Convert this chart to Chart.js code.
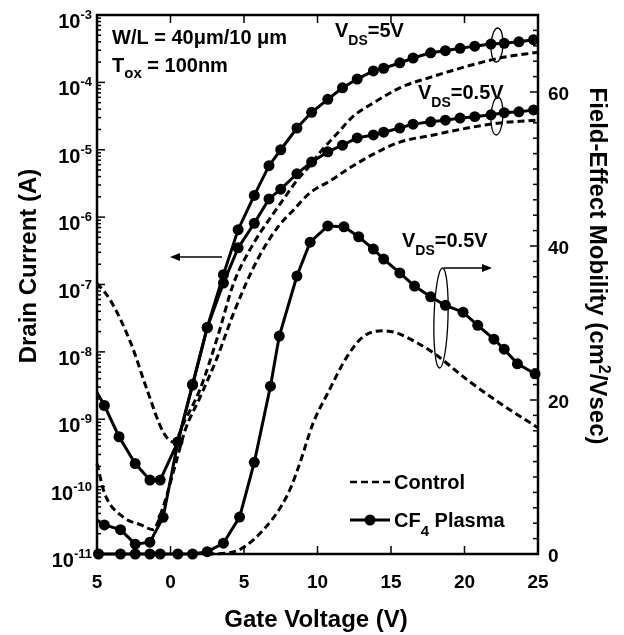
<!DOCTYPE html>
<html>
<head>
<meta charset="utf-8">
<script src="https://cdn.jsdelivr.net/npm/chart.js@4.4.1/dist/chart.umd.min.js"></script>
<style>
  html, body { margin: 0; padding: 0; background: #fff; }
</style>
</head>
<body>
<canvas id="chart" width="624" height="635"></canvas>
<script>
// ---- data ----
// drain current, CF4 plasma, VDS = 5V
const cf4HiV = [-5, -4.5, -3.5, -2.4, -1.4, -0.7, 0.5, 1.5, 2.5, 3.6, 4.6, 5.7, 6.7, 7.5, 8.6, 9.6, 10.7, 11.7, 12.7, 13.8, 14.5, 15.6, 16.5, 17.7, 18.7, 19.7, 20.7, 21.8, 22.7, 23.7, 24.7];
const cf4HiId = [2.5e-9, 1.6e-9, 5.5e-10, 2.2e-10, 1.25e-10, 1.25e-10, 4.6e-10, 3.3e-9, 2.3e-8, 1.4e-7, 6.5e-7, 2.1e-6, 5.8e-6, 1.0e-5, 2.1e-5, 3.6e-5, 5.6e-5, 8.3e-5, 1.12e-4, 1.48e-4, 1.62e-4, 1.95e-4, 2.3e-4, 2.75e-4, 2.95e-4, 3.2e-4, 3.45e-4, 3.7e-4, 3.8e-4, 4.0e-4, 4.3e-4];

// drain current, CF4 plasma, VDS = 0.5V
const cf4LoV = [-5, -4.5, -3.4, -2.4, -1.4, -0.5, 0.5, 1.5, 2.5, 3.6, 4.6, 5.7, 6.7, 7.5, 8.6, 9.6, 10.7, 11.7, 12.7, 13.8, 14.5, 15.6, 16.5, 17.7, 18.7, 19.7, 20.7, 21.8, 22.7, 23.7, 24.7];
const cf4LoId = [3.2e-11, 2.7e-11, 2.3e-11, 1.4e-11, 1.5e-11, 3.5e-11, 4.6e-10, 3.2e-9, 2.3e-8, 1.05e-7, 3.5e-7, 8.1e-7, 1.86e-6, 2.6e-6, 4.4e-6, 6.6e-6, 9.3e-6, 1.17e-5, 1.5e-5, 1.66e-5, 1.82e-5, 2.1e-5, 2.4e-5, 2.6e-5, 2.75e-5, 2.95e-5, 3.1e-5, 3.3e-5, 3.55e-5, 3.65e-5, 3.9e-5];

// drain current, control, VDS = 5V
const ctlHiV = [-5, -4.1, -2.7, -1.6, -0.5, 0.2, 1.0, 2.0, 3.2, 4.3, 5.6, 6.8, 7.7, 8.6, 9.5, 10.2, 11.4, 12.4, 13.9, 15.6, 17.9, 20.2, 22.4, 25];
const ctlHiId = [1.05e-7, 5.9e-8, 1.35e-8, 2.75e-9, 6.5e-10, 4.6e-10, 9.8e-10, 2.75e-9, 1.66e-8, 1.05e-7, 3.9e-7, 9.8e-7, 1.86e-6, 3.5e-6, 5.9e-6, 9.3e-6, 1.8e-5, 3.1e-5, 5.1e-5, 8.3e-5, 1.23e-4, 1.74e-4, 2.3e-4, 2.8e-4];

// drain current, control, VDS = 0.5V
const ctlLoV = [-5, -4.5, -3.2, -2.0, -1.2, -0.5, 0.3, 1.0, 2.0, 3.2, 4.3, 5.9, 7.3, 8.4, 9.5, 10.9, 12.2, 14.1, 15.6, 17.9, 20.2, 22.4, 25];
const ctlLoId = [2.2e-10, 8.1e-11, 3.5e-11, 2.7e-11, 2.3e-11, 5e-11, 2e-10, 6.9e-10, 2.1e-9, 8.5e-9, 3.8e-8, 2.3e-7, 7.1e-7, 1.3e-6, 2.3e-6, 3.5e-6, 5.4e-6, 9.3e-6, 1.3e-5, 1.66e-5, 2.1e-5, 2.5e-5, 2.75e-5];

// field-effect mobility (VDS = 0.5V)
const cf4MuV = [-4.9, -3.4, -2.4, -1.4, -0.7, 0.5, 1.5, 2.5, 3.6, 4.7, 5.7, 6.8, 7.4, 8.6, 9.5, 10.7, 11.8, 12.8, 13.8, 14.5, 15.6, 16.6, 17.7, 18.7, 19.9, 20.9, 22.0, 22.7, 23.6, 24.8];
const cf4Mu = [0, 0, 0, 0, 0, 0, 0, 0.3, 1.4, 4.8, 11.9, 21.8, 28.3, 36.1, 40.5, 42.6, 42.5, 41.2, 39.6, 38.3, 36.5, 34.8, 33.4, 32.3, 31.4, 29.7, 27.9, 26.6, 24.7, 23.4];
const ctlMuV = [2.5, 4.1, 5.0, 6.3, 7.5, 8.2, 8.8, 9.7, 10.7, 12.0, 13.1, 14.4, 15.4, 16.8, 17.9, 20.2, 22.4, 25];
const ctlMu = [0, 0.2, 0.9, 3.1, 6.1, 8.7, 11.8, 17.0, 20.9, 25.6, 28.2, 29.0, 28.7, 27.4, 26.1, 22.6, 19.6, 16.4];

// tick labels
const xTicks = [-5, 0, 5, 10, 15, 20, 25];
const xTickLabels = ['5', '0', '5', '10', '15', '20', '25'];
const yExps = [-3, -4, -5, -6, -7, -8, -9, -10, -11];
const y2Ticks = [0, 20, 40, 60];

const FONT = '"Liberation Sans", Arial, Helvetica, sans-serif';

function pts(xs, ys) {
  return xs.map((x, i) => ({ x: x, y: ys[i] }));
}

// draw a row of text pieces [text, size, dy] with optional rotation
function runs(ctx, parts, x, y, align, rot) {
  ctx.save();
  ctx.translate(x, y);
  if (rot) ctx.rotate(rot);
  let w = 0;
  const ws = parts.map(p => {
    ctx.font = 'bold ' + p[1] + 'px ' + FONT;
    const m = ctx.measureText(p[0]).width;
    w += m;
    return m;
  });
  let cx = align === 'center' ? -w / 2 : align === 'right' ? -w : 0;
  ctx.fillStyle = '#000';
  ctx.textAlign = 'left';
  ctx.textBaseline = 'alphabetic';
  parts.forEach((p, i) => {
    ctx.font = 'bold ' + p[1] + 'px ' + FONT;
    ctx.fillText(p[0], cx, p[2] || 0);
    cx += ws[i];
  });
  ctx.restore();
}

function arrow(ctx, x1, y, x2) {
  const dir = x2 > x1 ? 1 : -1;
  ctx.beginPath();
  ctx.moveTo(x1, y);
  ctx.lineTo(x2 - dir * 6, y);
  ctx.stroke();
  ctx.beginPath();
  ctx.moveTo(x2, y);
  ctx.lineTo(x2 - dir * 10, y - 4);
  ctx.lineTo(x2 - dir * 10, y + 4);
  ctx.closePath();
  ctx.fill();
}

const framePlugin = {
  id: 'frame',
  afterDraw(chart) {
    const ctx = chart.ctx;
    const a = chart.chartArea;
    const sx = chart.scales.x, sy = chart.scales.y, sy2 = chart.scales.y2;
    ctx.save();
    ctx.strokeStyle = '#000';
    ctx.fillStyle = '#000';
    ctx.lineWidth = 2.5;
    ctx.strokeRect(a.left, a.top, a.right - a.left, a.bottom - a.top);

    // x ticks, top and bottom, pointing inward
    ctx.lineWidth = 1.5;
    xTicks.forEach(v => {
      const px = sx.getPixelForValue(v);
      ctx.beginPath();
      ctx.moveTo(px, a.bottom); ctx.lineTo(px, a.bottom - 8);
      ctx.moveTo(px, a.top); ctx.lineTo(px, a.top + 8);
      ctx.stroke();
    });
    // log ticks on the left
    for (let e = -11; e <= -3; e++) {
      const py = sy.getPixelForValue(Math.pow(10, e));
      ctx.beginPath(); ctx.moveTo(a.left, py); ctx.lineTo(a.left + 8, py); ctx.stroke();
      if (e < -3) {
        for (let k = 2; k <= 9; k++) {
          const pm = sy.getPixelForValue(k * Math.pow(10, e));
          ctx.beginPath(); ctx.moveTo(a.left, pm); ctx.lineTo(a.left + 4, pm); ctx.stroke();
        }
      }
    }
    // mobility ticks on the right
    for (let v = 0; v <= 70; v += 2) {
      const py = sy2.getPixelForValue(v);
      const len = v % 20 === 0 ? 8 : 5;
      ctx.beginPath(); ctx.moveTo(a.right, py); ctx.lineTo(a.right - len, py); ctx.stroke();
    }

    // tick labels
    xTicks.forEach((v, i) => {
      runs(ctx, [[xTickLabels[i], 19]], sx.getPixelForValue(v), 588, 'center');
    });
    yExps.forEach(e => {
      const py = sy.getPixelForValue(Math.pow(10, e));
      runs(ctx, [['10', 20], [String(e), 13, -9]], 92, py + 13, 'right');
    });
    y2Ticks.forEach(v => {
      const py = sy2.getPixelForValue(v);
      runs(ctx, [[String(v), 19]], 548, py + 8, 'left');
    });

    // axis titles
    runs(ctx, [['Gate Voltage (V)', 24]], 316, 627, 'center');
    runs(ctx, [['Drain Current (A)', 24]], 36, 266, 'center', -Math.PI / 2);
    runs(ctx, [['Field-Effect Mobility (cm', 24], ['2', 16, -9], ['/Vsec)', 24]], 590, 266, 'center', Math.PI / 2);

    // annotations
    runs(ctx, [['W/L = 40\u03bcm/10 \u03bcm', 20]], 112, 44, 'left');
    runs(ctx, [['T', 20], ['ox', 15, 6], [' = 100nm', 20]], 112, 72, 'left');
    runs(ctx, [['V', 20], ['DS', 14, 8], ['=5V', 20]], 335, 37, 'left');
    runs(ctx, [['V', 20], ['DS', 14, 8], ['=0.5V', 20]], 418, 99, 'left');
    runs(ctx, [['V', 20], ['DS', 14, 8], ['=0.5V', 20]], 402, 247, 'left');

    // arrows and loops
    ctx.lineWidth = 1.3;
    arrow(ctx, 222, 257, 170);
    arrow(ctx, 444, 268, 492);
    ctx.beginPath(); ctx.ellipse(441, 318, 7, 50, 0.03, 0, Math.PI * 2); ctx.stroke();
    ctx.beginPath(); ctx.ellipse(497, 45, 6, 17, 0.05, 0, Math.PI * 2); ctx.stroke();
    ctx.beginPath(); ctx.ellipse(497, 116, 6, 19, 0.05, 0, Math.PI * 2); ctx.stroke();

    // legend
    ctx.lineWidth = 2.5;
    ctx.setLineDash([7, 4]);
    ctx.beginPath(); ctx.moveTo(350, 482); ctx.lineTo(390, 482); ctx.stroke();
    ctx.setLineDash([]);
    runs(ctx, [['Control', 20]], 394, 489, 'left');
    ctx.lineWidth = 3;
    ctx.beginPath(); ctx.moveTo(350, 520); ctx.lineTo(390, 520); ctx.stroke();
    ctx.beginPath(); ctx.arc(370, 520, 5.5, 0, Math.PI * 2); ctx.fill();
    runs(ctx, [['CF', 20], ['4', 15, 9], [' Plasma', 20]], 394, 527, 'left');
    ctx.restore();
  }
};

const solid = {
  borderColor: '#000', backgroundColor: '#000', borderWidth: 3, tension: 0,
  pointBackgroundColor: '#000', pointBorderWidth: 0, clip: 6
};
const dashed = {
  borderColor: '#000', borderWidth: 3, borderDash: [7, 4], pointRadius: 0,
  cubicInterpolationMode: 'monotone', clip: 6
};

new Chart(document.getElementById('chart'), {
  type: 'line',
  data: {
    datasets: [
      Object.assign({ label: 'CF4 5V', data: pts(cf4HiV, cf4HiId), yAxisID: 'y',
        pointRadius: c => (c.dataIndex === 0 ? 0 : 5.5) }, solid),
      Object.assign({ label: 'CF4 0.5V', data: pts(cf4LoV, cf4LoId), yAxisID: 'y',
        pointRadius: c => (c.dataIndex === 0 ? 0 : 5.5) }, solid),
      Object.assign({ label: 'Control 5V', data: pts(ctlHiV, ctlHiId), yAxisID: 'y' }, dashed),
      Object.assign({ label: 'Control 0.5V', data: pts(ctlLoV, ctlLoId), yAxisID: 'y' }, dashed),
      Object.assign({ label: 'CF4 mobility', data: pts(cf4MuV, cf4Mu), yAxisID: 'y2', pointRadius: 5.5 }, solid),
      Object.assign({ label: 'Control mobility', data: pts(ctlMuV, ctlMu), yAxisID: 'y2' }, dashed)
    ]
  },
  options: {
    responsive: false,
    animation: false,
    devicePixelRatio: 1,
    layout: { padding: { top: 15, left: 0, right: 0, bottom: 0 } },
    plugins: { legend: { display: false }, tooltip: { enabled: false } },
    scales: {
      x: {
        type: 'linear', min: -5, max: 25, position: 'bottom',
        ticks: { display: false }, grid: { display: false }, border: { display: false },
        afterFit: s => { s.height = 81; }
      },
      y: {
        type: 'logarithmic', min: 1e-11, max: 1e-3, position: 'left',
        ticks: { display: false }, grid: { display: false }, border: { display: false },
        afterFit: s => { s.width = 97; }
      },
      y2: {
        type: 'linear', min: 0, max: 70, position: 'right',
        ticks: { display: false }, grid: { display: false }, border: { display: false },
        afterFit: s => { s.width = 86; }
      }
    }
  },
  plugins: [framePlugin]
});
</script>
</body>
</html>
